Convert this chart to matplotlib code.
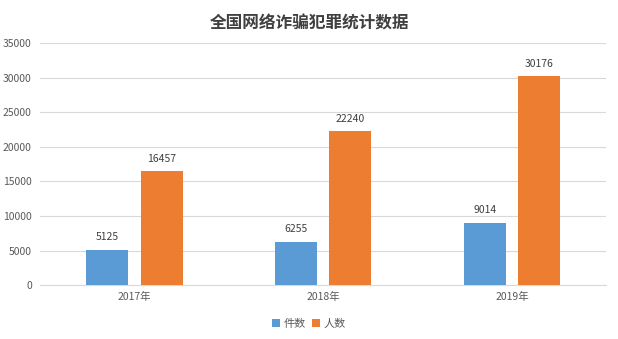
import numpy as np
import matplotlib.pyplot as plt

plt.rcParams['font.family'] = ['Noto Sans CJK SC', 'DejaVu Sans']

years = ['2017年', '2018年', '2019年']
cases = [5125, 6255, 9014]
people = [16457, 22240, 30176]

blue = '#5B9BD5'
orange = '#ED7D31'
text_gray = '#595959'

fig = plt.figure(figsize=(6.18, 3.39), dpi=100)
ax = fig.add_axes([0.065, 0.159, 0.916, 0.714])

x = np.arange(len(years))
w = 0.223
off = 0.144
b1 = ax.bar(x - off, cases, w, color=blue, label='件数', zorder=3)
b2 = ax.bar(x + off, people, w, color=orange, label='人数', zorder=3)

for bars, vals in ((b1, cases), (b2, people)):
    for rect, v in zip(bars, vals):
        ax.text(rect.get_x() + rect.get_width() / 2, v + 1100, str(v),
                ha='center', va='bottom', fontsize=7.5, color='#404040')

ax.set_xlim(-0.5, 2.5)
ax.set_ylim(0, 35000)
ax.set_yticks(np.arange(0, 35001, 5000))
ax.set_xticks(x)
ax.set_xticklabels(years)
ax.tick_params(axis='both', length=0, labelsize=7.5, colors=text_gray)
ax.tick_params(axis='y', pad=6)
ax.tick_params(axis='x', pad=5)
ax.grid(axis='y', color='#D9D9D9', linewidth=0.8, zorder=0)
for s in ['top', 'right', 'left']:
    ax.spines[s].set_visible(False)
ax.spines['bottom'].set_color('#D9D9D9')

fig.text(0.5, 0.932, '全国网络诈骗犯罪统计数据', ha='center', va='center',
         fontsize=12, fontweight='bold', color='#404040')

fig.legend(loc='center', bbox_to_anchor=(0.5, 0.045), ncol=2, frameon=False,
           fontsize=8, handlelength=0.7, handleheight=0.7, handletextpad=0.3,
           columnspacing=0.6, labelcolor=text_gray)

fig.savefig('out.png', dpi=100)
